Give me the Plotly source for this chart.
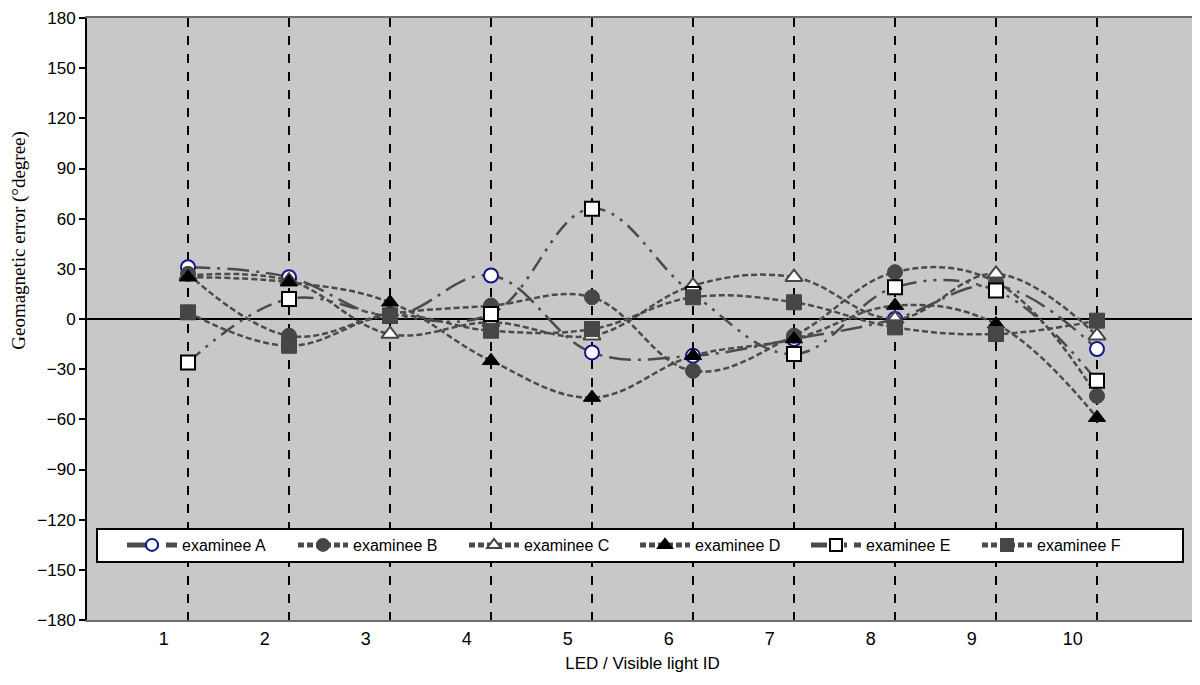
import plotly.graph_objects as go

ids = [1, 2, 3, 4, 5, 6, 7, 8, 9, 10]
tick_labels = ["1", "2", "3", "4", "5", "6", "7", "8", "9", "10"]

examinee_a = [31, 25, 2, 26, -20, -22, -12, 0, 20, -18]
examinee_b = [27, -10, 3, 8, 13, -31, -10, 28, 22, -46]
examinee_c = [26, 23, -9, -2, -10, 20, 25, 0, 27, -10]
examinee_d = [25, 22, 10, -25, -47, -22, -12, 8, -3, -59]
examinee_e = [-26, 12, 2, 3, 66, 15, -21, 19, 17, -37]
examinee_f = [4, -16, 2, -7, -6, 13, 10, -5, -9, -1]

y_ticks = [-180, -150, -120, -90, -60, -30, 0, 30, 60, 90, 120, 150, 180]

line_col = "rgb(75,75,75)"
short_dash = "6px,3px"

series = [
    ("examinee A", examinee_a, dict(symbol="circle", size=14, color="white",
                                    line=dict(color="rgb(20,20,140)", width=2)), "22px,7px,3px,7px"),
    ("examinee B", examinee_b, dict(symbol="circle", size=15, color="rgb(70,70,70)",
                                    line=dict(color="rgb(70,70,70)", width=1)), short_dash),
    ("examinee C", examinee_c, dict(symbol="triangle-up", size=15, color="white",
                                    line=dict(color="rgb(70,70,70)", width=2)), short_dash),
    ("examinee D", examinee_d, dict(symbol="triangle-up", size=15, color="black",
                                    line=dict(color="black", width=1)), short_dash),
    ("examinee E", examinee_e, dict(symbol="square", size=14, color="white",
                                    line=dict(color="black", width=2)), "16px,7px,3px,7px,3px,7px"),
    ("examinee F", examinee_f, dict(symbol="square", size=15, color="rgb(70,70,70)",
                                    line=dict(color="rgb(70,70,70)", width=1)), short_dash),
]

fig = go.Figure()
for name, vals, marker, dash in series:
    fig.add_trace(go.Scatter(
        x=ids, y=vals, name=name, mode="lines+markers",
        line=dict(color=line_col, width=2.5, dash=dash, shape="spline", smoothing=1.1),
        marker=marker,
    ))

# legend frame (decoration box behind the legend)
fig.add_shape(type="rect", xref="paper", yref="paper",
              x0=0.009, x1=0.9865, y0=0.0963, y1=0.1512,
              fillcolor="white", line=dict(color="black", width=2), layer="above")

fig.add_annotation(
    text="Geomagnetic error (°degree)", textangle=-90,
    xref="paper", yref="paper", x=-0.0612, y=0.63,
    xanchor="center", yanchor="middle", showarrow=False,
    font=dict(family="Liberation Serif, DejaVu Serif, serif", size=19, color="black"),
)

# the page body adds an 8px offset; margins compensate for it
fig.update_layout(
    width=1200, height=685,
    margin=dict(l=79, r=10, t=10, b=73),
    paper_bgcolor="white",
    plot_bgcolor="rgb(200,200,200)",
    showlegend=True,
    legend=dict(
        orientation="h", x=0.0315, y=0.1246, xanchor="left", yanchor="middle",
        bgcolor="rgba(0,0,0,0)", borderwidth=0,
        font=dict(family="Liberation Sans, Arial, sans-serif", size=16, color="black"),
        entrywidth=106, entrywidthmode="pixels", itemwidth=50, itemsizing="constant",
    ),
    xaxis=dict(
        range=[0, 11],
        automargin=False,
        tickmode="array",
        tickvals=[i - 0.24 for i in ids],
        ticktext=tick_labels,
        ticks="",
        ticklabelstandoff=1,
        showgrid=False,
        zeroline=False,
        showline=True, linecolor="rgb(110,110,110)", linewidth=2, mirror=True,
        tickfont=dict(family="Liberation Sans Narrow, Liberation Sans, sans-serif", size=18, color="black"),
        minor=dict(tickmode="array", tickvals=ids, showgrid=True, gridcolor="black",
                   griddash="dash", gridwidth=1.5, ticks=""),
        title=dict(text="LED / Visible light ID", standoff=10,
                   font=dict(family="Liberation Sans Narrow, Liberation Sans, sans-serif", size=17, color="black")),
    ),
    yaxis=dict(
        range=[-180, 180],
        automargin=False,
        tickmode="array",
        tickvals=y_ticks,
        ticks="outside", ticklen=6, tickwidth=2, tickcolor="black",
        ticklabeloverflow="allow",
        showgrid=False,
        zeroline=True, zerolinecolor="black", zerolinewidth=2,
        showline=True, linecolor="black", linewidth=2,
        tickfont=dict(family="Liberation Sans, Arial, sans-serif", size=17, color="black"),
    ),
)

fig.write_html("out.html")
